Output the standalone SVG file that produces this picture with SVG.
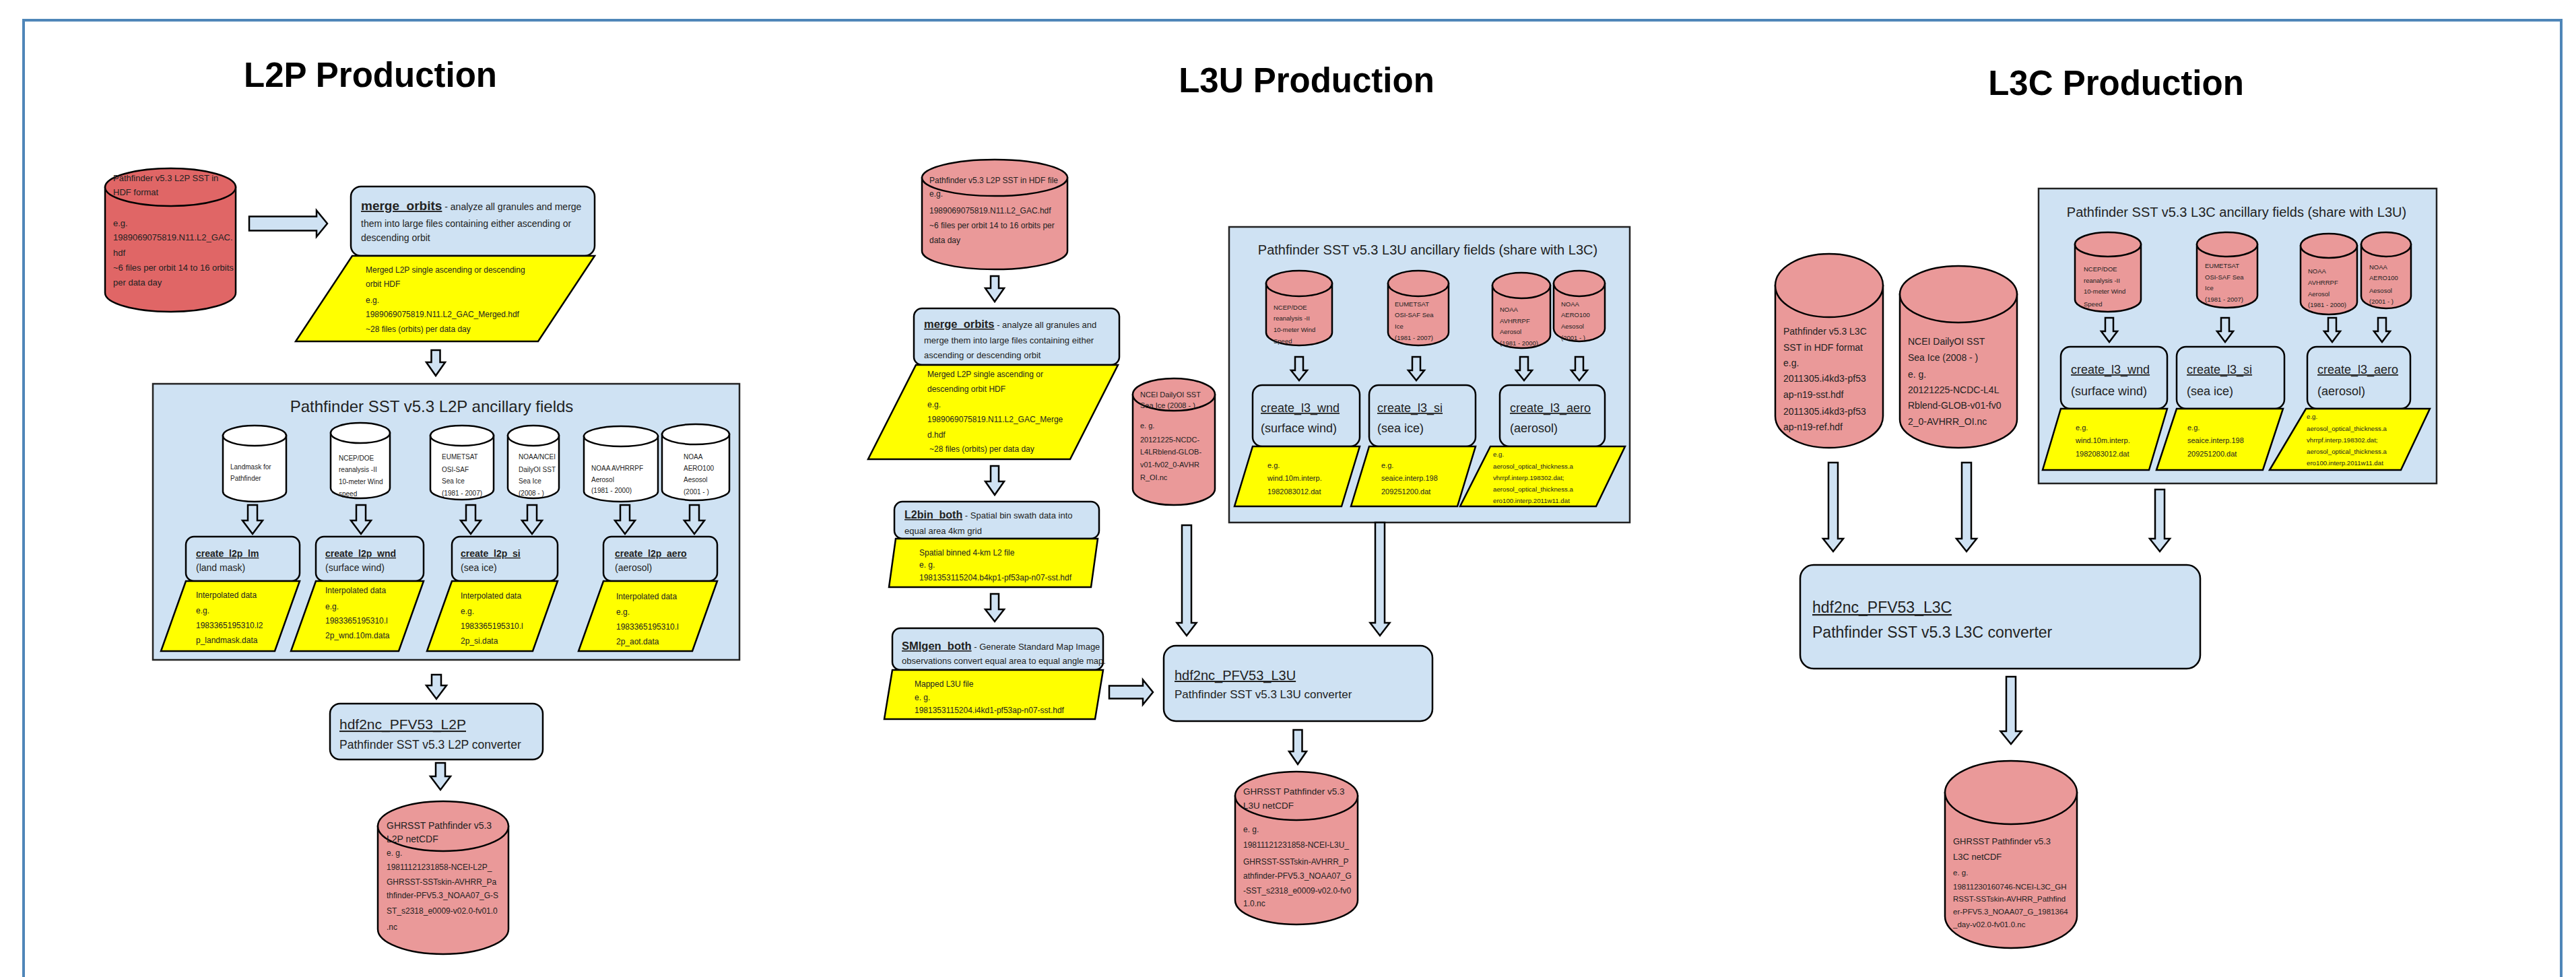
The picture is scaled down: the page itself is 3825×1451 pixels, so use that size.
<svg xmlns="http://www.w3.org/2000/svg" width="3825" height="1451" viewBox="0 0 3825 1451">
<style>
text{font-family:"Liberation Sans",Arial,sans-serif;fill:#222}
.ttl{font-size:51px;font-weight:bold;fill:#000;text-anchor:middle}
.box{fill:#cfe2f3;stroke:#000;stroke-width:2.5}
.grp{fill:#cfe2f3;stroke:#222;stroke-width:2.5}
.para{fill:#ffff00;stroke:#000;stroke-width:2.5;stroke-linejoin:miter}
.cr{fill:#e06666;stroke:#000;stroke-width:2.5}
.cp{fill:#ea9999;stroke:#000;stroke-width:2.5}
.cw{fill:#fff;stroke:#000;stroke-width:2.5}
.arr{fill:#cfe2f3;stroke:#000;stroke-width:2.5;stroke-linejoin:miter}
.u{text-decoration:underline}
.b{font-weight:bold}
.s9{font-size:9.5px}.s10{font-size:10px}.s11{font-size:11px}.s12{font-size:12px}.s13{font-size:13px}.s14{font-size:14px}.s18{font-size:18px}
</style>
<rect x="0" y="0" width="3825" height="1451" fill="#fff"/>
<path d="M35 1451 V30 H3803 V1451" fill="none" stroke="#4f86b8" stroke-width="4"/>
<text class="ttl" x="550" y="129">L2P Production</text>
<text class="ttl" x="1940" y="137">L3U Production</text>
<text class="ttl" x="3142" y="141">L3C Production</text>

<!-- ===== L2P ===== -->
<g id="l2p-input">
<path class="cr" d="M156 278 V435 A97 28 0 0 0 350 435 V278 Z"/>
<ellipse class="cr" cx="253" cy="278" rx="97" ry="28"/>
<text class="s13"><tspan x="168" y="269">Pathfinder v5.3 L2P SST in</tspan><tspan x="168" y="290">HDF format</tspan><tspan x="168" y="336">e.g.</tspan><tspan x="168" y="357">1989069075819.N11.L2_GAC.</tspan><tspan x="168" y="380">hdf</tspan><tspan x="168" y="402">~6 files per orbit 14 to 16 orbits</tspan><tspan x="168" y="424">per data day</tspan></text>
</g>
<g id="l2p-merge">
<rect class="box" x="521" y="277" width="362" height="103" rx="15"/>
<text class="s14" x="536" y="312"><tspan class="b u" font-size="19">merge_orbits</tspan> - analyze all granules and merge</text>
<text class="s14" x="536" y="337">them into large files containing either ascending or</text>
<text class="s14" x="536" y="358">descending orbit</text>
<polygon class="para" points="523,380 883,380 799,507 439,507"/>
<text class="s12"><tspan x="543" y="405">Merged L2P single ascending or descending</tspan><tspan x="543" y="426">orbit HDF</tspan><tspan x="543" y="450">e.g.</tspan><tspan x="543" y="471">1989069075819.N11.L2_GAC_Merged.hdf</tspan><tspan x="543" y="493">~28 files (orbits) per data day</tspan></text>
</g>
<g id="l2p-ancillary">
<rect class="grp" x="227" y="570" width="871" height="410"/>
<text x="641" y="612" font-size="24" text-anchor="middle">Pathfinder SST v5.3 L2P ancillary fields</text>
<g id="l2p-landmask-src">
<path class="cw" d="M331 647 V730 A47 15 0 0 0 425 730 V647 Z"/><ellipse class="cw" cx="378" cy="647" rx="47" ry="15"/>
<text class="s10"><tspan x="342" y="697">Landmask for</tspan><tspan x="342" y="714">Pathfinder</tspan></text>
</g>
<g id="l2p-ncep-src">
<path class="cw" d="M491 643 V725 A44 15 0 0 0 579 725 V643 Z"/><ellipse class="cw" cx="535" cy="643" rx="44" ry="15"/>
<text class="s10"><tspan x="503" y="684">NCEP/DOE</tspan><tspan x="503" y="701">reanalysis -II</tspan><tspan x="503" y="719">10-meter Wind</tspan><tspan x="503" y="737">speed</tspan></text>
</g>
<g id="l2p-eumetsat-src">
<path class="cw" d="M639 647 V727 A47 15 0 0 0 733 727 V647 Z"/><ellipse class="cw" cx="686" cy="647" rx="47" ry="15"/>
<text class="s10"><tspan x="656" y="682">EUMETSAT</tspan><tspan x="656" y="701">OSI-SAF</tspan><tspan x="656" y="718">Sea Ice</tspan><tspan x="656" y="736">(1981 - 2007)</tspan></text>
</g>
<g id="l2p-ncei-src">
<path class="cw" d="M754 647 V725 A38 15 0 0 0 830 725 V647 Z"/><ellipse class="cw" cx="792" cy="647" rx="38" ry="15"/>
<text class="s10"><tspan x="770" y="682">NOAA/NCEI</tspan><tspan x="770" y="701">DailyOI SST</tspan><tspan x="770" y="718">Sea Ice</tspan><tspan x="770" y="736">(2008 - )</tspan></text>
</g>
<g id="l2p-avhrrpf-src">
<path class="cw" d="M867 648 V730 A55 15 0 0 0 977 730 V648 Z"/><ellipse class="cw" cx="922" cy="648" rx="55" ry="15"/>
<text class="s10"><tspan x="878" y="699">NOAA AVHRRPF</tspan><tspan x="878" y="716">Aerosol</tspan><tspan x="878" y="732">(1981 - 2000)</tspan></text>
</g>
<g id="l2p-aero100-src">
<path class="cw" d="M983 645 V728 A50 15 0 0 0 1083 728 V645 Z"/><ellipse class="cw" cx="1033" cy="645" rx="50" ry="15"/>
<text class="s10"><tspan x="1015" y="682">NOAA</tspan><tspan x="1015" y="699">AERO100</tspan><tspan x="1015" y="716">Aesosol</tspan><tspan x="1015" y="734">(2001 - )</tspan></text>
</g>
<g id="create-l2p-lm">
<rect class="box" x="276" y="797" width="169" height="66" rx="12"/>
<text class="s14"><tspan x="291" y="827" class="b u">create_l2p_lm</tspan><tspan x="291" y="848">(land mask)</tspan></text>
<polygon class="para" points="276,863 445,863 408,967 239,967"/>
<text class="s12"><tspan x="291" y="888">Interpolated data</tspan><tspan x="291" y="911">e.g.</tspan><tspan x="291" y="933">1983365195310.l2</tspan><tspan x="291" y="955">p_landmask.data</tspan></text>
</g>
<g id="create-l2p-wnd">
<rect class="box" x="469" y="797" width="160" height="66" rx="12"/>
<text class="s14"><tspan x="483" y="827" class="b u">create_l2p_wnd</tspan><tspan x="483" y="848">(surface wind)</tspan></text>
<polygon class="para" points="469,863 629,863 592,967 432,967"/>
<text class="s12"><tspan x="483" y="881">Interpolated data</tspan><tspan x="483" y="905">e.g.</tspan><tspan x="483" y="926">1983365195310.l</tspan><tspan x="483" y="948">2p_wnd.10m.data</tspan></text>
</g>
<g id="create-l2p-si">
<rect class="box" x="671" y="797" width="157" height="66" rx="12"/>
<text class="s14"><tspan x="684" y="827" class="b u">create_l2p_si</tspan><tspan x="684" y="848">(sea ice)</tspan></text>
<polygon class="para" points="671,863 828,863 791,967 634,967"/>
<text class="s12"><tspan x="684" y="889">Interpolated data</tspan><tspan x="684" y="912">e.g.</tspan><tspan x="684" y="934">1983365195310.l</tspan><tspan x="684" y="956">2p_si.data</tspan></text>
</g>
<g id="create-l2p-aero">
<rect class="box" x="896" y="797" width="169" height="66" rx="12"/>
<text class="s14"><tspan x="913" y="827" class="b u">create_l2p_aero</tspan><tspan x="913" y="848">(aerosol)</tspan></text>
<polygon class="para" points="896,863 1065,863 1028,967 859,967"/>
<text class="s12"><tspan x="915" y="890">Interpolated data</tspan><tspan x="915" y="913">e.g.</tspan><tspan x="915" y="935">1983365195310.l</tspan><tspan x="915" y="957">2p_aot.data</tspan></text>
</g>
</g>
<g id="l2p-converter">
<rect class="box" x="490" y="1045" width="316" height="83" rx="15"/>
<text x="504" y="1083" font-size="21" class="u">hdf2nc_PFV53_L2P</text>
<text x="504" y="1112" font-size="17.5">Pathfinder SST v5.3 L2P converter</text>
</g>
<g id="l2p-output">
<path class="cp" d="M561 1227 V1380 A97 37 0 0 0 755 1380 V1227 Z"/>
<ellipse class="cp" cx="658" cy="1227" rx="97" ry="37"/>
<text class="s14"><tspan x="574" y="1231">GHRSST Pathfinder v5.3</tspan><tspan x="574" y="1251">L2P netCDF</tspan></text>
<text class="s12"><tspan x="574" y="1271">e. g.</tspan><tspan x="574" y="1292">19811121231858-NCEI-L2P_</tspan><tspan x="574" y="1314">GHRSST-SSTskin-AVHRR_Pa</tspan><tspan x="574" y="1334">thfinder-PFV5.3_NOAA07_G-S</tspan><tspan x="574" y="1357">ST_s2318_e0009-v02.0-fv01.0</tspan><tspan x="574" y="1381">.nc</tspan></text>
</g>

<!-- ===== L3U ===== -->
<g id="l3u-input">
<path class="cp" d="M1369 264 V373 A108 27 0 0 0 1585 373 V264 Z"/>
<ellipse class="cp" cx="1477" cy="264" rx="108" ry="27"/>
<text class="s12"><tspan x="1380" y="272">Pathfinder v5.3 L2P SST in HDF file</tspan><tspan x="1380" y="292">e.g.</tspan><tspan x="1380" y="317">1989069075819.N11.L2_GAC.hdf</tspan><tspan x="1380" y="339">~6 files per orbit 14 to 16 orbits per</tspan><tspan x="1380" y="361">data day</tspan></text>
</g>
<g id="l3u-merge">
<rect class="box" x="1357" y="458" width="305" height="84" rx="12"/>
<text class="s13" x="1372" y="487"><tspan class="b u" font-size="16.5">merge_orbits</tspan> - analyze all granules and</text>
<text class="s13" x="1372" y="510">merge them into large files containing either</text>
<text class="s13" x="1372" y="532">ascending or descending orbit</text>
<polygon class="para" points="1360,542 1660,542 1589,682 1289,682"/>
<text class="s12"><tspan x="1377" y="560">Merged L2P single ascending or</tspan><tspan x="1377" y="582">descending orbit HDF</tspan><tspan x="1377" y="605">e.g.</tspan><tspan x="1377" y="627">1989069075819.N11.L2_GAC_Merge</tspan><tspan x="1377" y="650">d.hdf</tspan><tspan x="1380" y="671">~28 files (orbits) per data day</tspan></text>
</g>
<g id="l3u-l2bin">
<rect class="box" x="1328" y="745" width="304" height="55" rx="12"/>
<text class="s13" x="1343" y="770"><tspan class="b u" font-size="16">L2bin_both</tspan> - Spatial bin swath data into</text>
<text class="s13" x="1343" y="793">equal area 4km grid</text>
<polygon class="para" points="1330,800 1630,800 1620,872 1320,872"/>
<text class="s12"><tspan x="1365" y="825">Spatial binned 4-km L2 file</tspan><tspan x="1365" y="843">e. g.</tspan><tspan x="1365" y="862">1981353115204.b4kp1-pf53ap-n07-sst.hdf</tspan></text>
</g>
<g id="l3u-smigen">
<rect class="box" x="1325" y="933" width="313" height="62" rx="12"/>
<text class="s13" x="1339" y="965"><tspan class="b u" font-size="16.5">SMIgen_both</tspan> - Generate Standard Map Image</text>
<text class="s13" x="1339" y="986">observations convert equal area to equal angle map.</text>
<polygon class="para" points="1325,995 1638,995 1626,1068 1313,1068"/>
<text class="s12"><tspan x="1358" y="1020">Mapped L3U file</tspan><tspan x="1358" y="1040">e. g.</tspan><tspan x="1358" y="1059">1981353115204.i4kd1-pf53ap-n07-sst.hdf</tspan></text>
</g>
<g id="l3u-ncei">
<path class="cp" d="M1682 586 V726 A61 24 0 0 0 1804 726 V586 Z"/>
<ellipse class="cp" cx="1743" cy="586" rx="61" ry="24"/>
<text class="s11"><tspan x="1693" y="590">NCEI DailyOI SST</tspan><tspan x="1693" y="606">Sea Ice (2008 - )</tspan><tspan x="1693" y="636">e. g.</tspan><tspan x="1693" y="657">20121225-NCDC-</tspan><tspan x="1693" y="675">L4LRblend-GLOB-</tspan><tspan x="1693" y="694">v01-fv02_0-AVHR</tspan><tspan x="1693" y="713">R_OI.nc</tspan></text>
</g>
<g id="l3u-ancillary">
<rect class="grp" x="1825" y="337" width="595" height="439"/>
<text x="2120" y="378" font-size="20" text-anchor="middle">Pathfinder SST v5.3 L3U ancillary fields (share with L3C)</text>
<g id="l3u-ncep-src">
<path class="cp" d="M1880 421 V494 A49 19 0 0 0 1978 494 V421 Z"/><ellipse class="cp" cx="1929" cy="421" rx="49" ry="19"/>
<text class="s9"><tspan x="1891" y="460">NCEP/DOE</tspan><tspan x="1891" y="476">reanalysis -II</tspan><tspan x="1891" y="493">10-meter Wind</tspan><tspan x="1891" y="510">Speed</tspan></text>
</g>
<g id="l3u-eumetsat-src">
<path class="cp" d="M2061 421 V494 A45 19 0 0 0 2151 494 V421 Z"/><ellipse class="cp" cx="2106" cy="421" rx="45" ry="19"/>
<text class="s9"><tspan x="2071" y="455">EUMETSAT</tspan><tspan x="2071" y="471">OSI-SAF Sea</tspan><tspan x="2071" y="488">Ice</tspan><tspan x="2071" y="505">(1981 - 2007)</tspan></text>
</g>
<g id="l3u-avhrrpf-src">
<path class="cp" d="M2216 424 V498 A43 19 0 0 0 2302 498 V424 Z"/><ellipse class="cp" cx="2259" cy="424" rx="43" ry="19"/>
<text class="s9"><tspan x="2227" y="463">NOAA</tspan><tspan x="2227" y="480">AVHRRPF</tspan><tspan x="2227" y="496">Aerosol</tspan><tspan x="2227" y="513">(1981 - 2000)</tspan></text>
</g>
<g id="l3u-aero100-src">
<path class="cp" d="M2307 421 V488 A38 19 0 0 0 2383 488 V421 Z"/><ellipse class="cp" cx="2345" cy="421" rx="38" ry="19"/>
<text class="s9"><tspan x="2318" y="455">NOAA</tspan><tspan x="2318" y="471">AERO100</tspan><tspan x="2318" y="488">Aesosol</tspan><tspan x="2318" y="505">(2001 - )</tspan></text>
</g>
<g id="create-l3u-wnd">
<rect class="box" x="1860" y="572" width="159" height="91" rx="14"/>
<text class="s18"><tspan x="1872" y="612" class="u">create_l3_wnd</tspan><tspan x="1872" y="642">(surface wind)</tspan></text>
<polygon class="para" points="1860,663 2019,663 1992,752 1833,752"/>
<text class="s11"><tspan x="1882" y="695">e.g.</tspan><tspan x="1882" y="714">wind.10m.interp.</tspan><tspan x="1882" y="734">1982083012.dat</tspan></text>
</g>
<g id="create-l3u-si">
<rect class="box" x="2033" y="572" width="158" height="91" rx="14"/>
<text class="s18"><tspan x="2045" y="612" class="u">create_l3_si</tspan><tspan x="2045" y="642">(sea ice)</tspan></text>
<polygon class="para" points="2033,663 2191,663 2164,752 2006,752"/>
<text class="s11"><tspan x="2051" y="695">e.g.</tspan><tspan x="2051" y="714">seaice.interp.198</tspan><tspan x="2051" y="734">209251200.dat</tspan></text>
</g>
<g id="create-l3u-aero">
<rect class="box" x="2227" y="572" width="156" height="91" rx="14"/>
<text class="s18"><tspan x="2242" y="612" class="u">create_l3_aero</tspan><tspan x="2242" y="642">(aerosol)</tspan></text>
<polygon class="para" points="2213,663 2413,663 2370,752 2168,752"/>
<text font-size="9.7"><tspan x="2217" y="678">e.g.</tspan><tspan x="2217" y="696">aerosol_optical_thickness.a</tspan><tspan x="2217" y="713">vhrrpf.interp.198302.dat;</tspan><tspan x="2217" y="730">aerosol_optical_thickness.a</tspan><tspan x="2217" y="747">ero100.interp.2011w11.dat</tspan></text>
</g>
</g>
<g id="l3u-converter">
<rect class="box" x="1728" y="959" width="399" height="112" rx="18"/>
<text x="1744" y="1010" font-size="20" class="u">hdf2nc_PFV53_L3U</text>
<text x="1744" y="1037" font-size="17">Pathfinder SST v5.3 L3U converter</text>
</g>
<g id="l3u-output">
<path class="cp" d="M1834 1182 V1337 A91 36 0 0 0 2016 1337 V1182 Z"/>
<ellipse class="cp" cx="1925" cy="1182" rx="91" ry="36"/>
<text font-size="13.5"><tspan x="1846" y="1180">GHRSST Pathfinder v5.3</tspan><tspan x="1846" y="1201">L3U netCDF</tspan></text>
<text class="s12"><tspan x="1846" y="1236">e. g.</tspan><tspan x="1846" y="1259">19811121231858-NCEI-L3U_</tspan><tspan x="1846" y="1284">GHRSST-SSTskin-AVHRR_P</tspan><tspan x="1846" y="1305">athfinder-PFV5.3_NOAA07_G</tspan><tspan x="1846" y="1327">-SST_s2318_e0009-v02.0-fv0</tspan><tspan x="1846" y="1346">1.0.nc</tspan></text>
</g>

<!-- ===== L3C ===== -->
<g id="l3c-input">
<path class="cp" d="M2636 424 V618 A80 47 0 0 0 2796 618 V424 Z"/>
<ellipse class="cp" cx="2716" cy="424" rx="80" ry="47"/>
<text class="s14"><tspan x="2648" y="497">Pathfinder v5.3 L3C</tspan><tspan x="2648" y="521">SST in HDF format</tspan><tspan x="2648" y="544">e.g.</tspan><tspan x="2648" y="567">2011305.i4kd3-pf53</tspan><tspan x="2648" y="591">ap-n19-sst.hdf</tspan><tspan x="2648" y="616">2011305.i4kd3-pf53</tspan><tspan x="2648" y="639">ap-n19-ref.hdf</tspan></text>
</g>
<g id="l3c-ncei">
<path class="cp" d="M2821 437 V623 A87 42 0 0 0 2995 623 V437 Z"/>
<ellipse class="cp" cx="2908" cy="437" rx="87" ry="42"/>
<text class="s14"><tspan x="2833" y="512">NCEI DailyOI SST</tspan><tspan x="2833" y="536">Sea Ice (2008 - )</tspan><tspan x="2833" y="561">e. g.</tspan><tspan x="2833" y="584">20121225-NCDC-L4L</tspan><tspan x="2833" y="607">Rblend-GLOB-v01-fv0</tspan><tspan x="2833" y="631">2_0-AVHRR_OI.nc</tspan></text>
</g>
<g id="l3c-ancillary">
<rect class="grp" x="3027" y="280" width="591" height="438"/>
<text x="3321" y="322" font-size="20" text-anchor="middle">Pathfinder SST v5.3 L3C ancillary fields (share with L3U)</text>
<g id="l3c-ncep-src">
<path class="cp" d="M3081 363 V445 A49 18 0 0 0 3179 445 V363 Z"/><ellipse class="cp" cx="3130" cy="363" rx="49" ry="18"/>
<text class="s9"><tspan x="3094" y="403">NCEP/DOE</tspan><tspan x="3094" y="420">reanalysis -II</tspan><tspan x="3094" y="436">10-meter Wind</tspan><tspan x="3094" y="455">Speed</tspan></text>
</g>
<g id="l3c-eumetsat-src">
<path class="cp" d="M3262 363 V439 A45 18 0 0 0 3352 439 V363 Z"/><ellipse class="cp" cx="3307" cy="363" rx="45" ry="18"/>
<text class="s9"><tspan x="3274" y="398">EUMETSAT</tspan><tspan x="3274" y="415">OSI-SAF Sea</tspan><tspan x="3274" y="431">Ice</tspan><tspan x="3274" y="448">(1981 - 2007)</tspan></text>
</g>
<g id="l3c-avhrrpf-src">
<path class="cp" d="M3416 365 V449 A42 18 0 0 0 3500 449 V365 Z"/><ellipse class="cp" cx="3458" cy="365" rx="42" ry="18"/>
<text class="s9"><tspan x="3427" y="406">NOAA</tspan><tspan x="3427" y="423">AVHRRPF</tspan><tspan x="3427" y="440">Aerosol</tspan><tspan x="3427" y="456">(1981 - 2000)</tspan></text>
</g>
<g id="l3c-aero100-src">
<path class="cp" d="M3506 363 V440 A37 18 0 0 0 3580 440 V363 Z"/><ellipse class="cp" cx="3543" cy="363" rx="37" ry="18"/>
<text class="s9"><tspan x="3518" y="400">NOAA</tspan><tspan x="3518" y="416">AERO100</tspan><tspan x="3518" y="435">Aesosol</tspan><tspan x="3518" y="451">(2001 - )</tspan></text>
</g>
<g id="create-l3c-wnd">
<rect class="box" x="3060" y="515" width="158" height="92" rx="14"/>
<text class="s18"><tspan x="3075" y="555" class="u">create_l3_wnd</tspan><tspan x="3075" y="587">(surface wind)</tspan></text>
<polygon class="para" points="3060,607 3218,607 3191,698 3033,698"/>
<text class="s11"><tspan x="3082" y="639">e.g.</tspan><tspan x="3082" y="658">wind.10m.interp.</tspan><tspan x="3082" y="678">1982083012.dat</tspan></text>
</g>
<g id="create-l3c-si">
<rect class="box" x="3232" y="515" width="160" height="92" rx="14"/>
<text class="s18"><tspan x="3247" y="555" class="u">create_l3_si</tspan><tspan x="3247" y="587">(sea ice)</tspan></text>
<polygon class="para" points="3232,607 3390,607 3360,698 3202,698"/>
<text class="s11"><tspan x="3248" y="639">e.g.</tspan><tspan x="3248" y="658">seaice.interp.198</tspan><tspan x="3248" y="678">209251200.dat</tspan></text>
</g>
<g id="create-l3c-aero">
<rect class="box" x="3426" y="515" width="153" height="92" rx="14"/>
<text class="s18"><tspan x="3441" y="555" class="u">create_l3_aero</tspan><tspan x="3441" y="587">(aerosol)</tspan></text>
<polygon class="para" points="3424,607 3608,607 3565,698 3370,698"/>
<text font-size="9.7"><tspan x="3425" y="622">e.g.</tspan><tspan x="3425" y="640">aerosol_optical_thickness.a</tspan><tspan x="3425" y="657">vhrrpf.interp.198302.dat;</tspan><tspan x="3425" y="674">aerosol_optical_thickness.a</tspan><tspan x="3425" y="691">ero100.interp.2011w11.dat</tspan></text>
</g>
</g>
<g id="l3c-converter">
<rect class="box" x="2673" y="839" width="594" height="154" rx="20"/>
<text x="2691" y="910" font-size="23" class="u">hdf2nc_PFV53_L3C</text>
<text x="2691" y="947" font-size="23">Pathfinder SST v5.3 L3C converter</text>
</g>
<g id="l3c-output">
<path class="cp" d="M2888 1177 V1361 A98 47 0 0 0 3084 1361 V1177 Z"/>
<ellipse class="cp" cx="2986" cy="1177" rx="98" ry="47"/>
<text class="s13"><tspan x="2900" y="1254">GHRSST Pathfinder v5.3</tspan><tspan x="2900" y="1277">L3C netCDF</tspan></text>
<text font-size="11.5"><tspan x="2900" y="1300">e. g.</tspan><tspan x="2900" y="1321">19811230160746-NCEI-L3C_GH</tspan><tspan x="2900" y="1339">RSST-SSTskin-AVHRR_Pathfind</tspan><tspan x="2900" y="1358">er-PFV5.3_NOAA07_G_1981364</tspan><tspan x="2900" y="1377">_day-v02.0-fv01.0.nc</tspan></text>
</g>

<!-- ===== connectors ===== -->
<g id="connectors">
<path class="arr" d="M370 321.5 H470 V312.5 L486 332 L470 351.5 V342.5 H370 Z"/>
<path class="arr" d="M640.5 520 H653.5 V538 H661 L647 558 L633 538 H640.5 Z"/>
<path class="arr" d="M368 750 H382 V773 H390 L375 793 L360 773 H368 Z"/>
<path class="arr" d="M529 750 H543 V773 H551 L536 793 L521 773 H529 Z"/>
<path class="arr" d="M692 750 H706 V773 H714 L699 793 L684 773 H692 Z"/>
<path class="arr" d="M783 750 H797 V773 H805 L790 793 L775 773 H783 Z"/>
<path class="arr" d="M921 750 H935 V773 H943 L928 793 L913 773 H921 Z"/>
<path class="arr" d="M1024 750 H1038 V773 H1046 L1031 793 L1016 773 H1024 Z"/>
<path class="arr" d="M641 1002 H655 V1018 H663 L648 1038 L633 1018 H641 Z"/>
<path class="arr" d="M647 1133 H661 V1153 H669 L654 1173 L639 1153 H647 Z"/>
<path class="arr" d="M1471 410 H1483 V428 H1491 L1477 448 L1463 428 H1471 Z"/>
<path class="arr" d="M1471 692 H1483 V715 H1491 L1477 735 L1463 715 H1471 Z"/>
<path class="arr" d="M1471 882 H1483 V905 H1491 L1477 923 L1463 905 H1471 Z"/>
<path class="arr" d="M1647 1018.5 H1697 V1009.5 L1712 1028 L1697 1046.5 V1037.5 H1647 Z"/>
<path class="arr" d="M1755 780 H1769 V925 H1776.5 L1762 944 L1747.5 925 H1755 Z"/>
<path class="arr" d="M2042 776 H2056 V925 H2063.5 L2049 944 L2034.5 925 H2042 Z"/>
<path class="arr" d="M1920.5 1084 H1933.5 V1116 H1940 L1927 1135 L1914 1116 H1920.5 Z"/>
<path class="arr" d="M1923 530 H1935 V550 H1941 L1929 565 L1917 550 H1923 Z"/>
<path class="arr" d="M2097 530 H2109 V550 H2115 L2103 565 L2091 550 H2097 Z"/>
<path class="arr" d="M2257 530 H2269 V550 H2275 L2263 565 L2251 550 H2257 Z"/>
<path class="arr" d="M2339 530 H2351 V550 H2357 L2345 565 L2333 550 H2339 Z"/>
<path class="arr" d="M2715 687 H2729 V800 H2737 L2722 819 L2707 800 H2715 Z"/>
<path class="arr" d="M2913 687 H2927 V800 H2935 L2920 819 L2905 800 H2913 Z"/>
<path class="arr" d="M3200 727 H3214 V800 H3222 L3207 819 L3192 800 H3200 Z"/>
<path class="arr" d="M3126 472 H3138 V492 H3144 L3132 508 L3120 492 H3126 Z"/>
<path class="arr" d="M3298 472 H3310 V492 H3316 L3304 508 L3292 492 H3298 Z"/>
<path class="arr" d="M3457 472 H3469 V492 H3475 L3463 508 L3451 492 H3457 Z"/>
<path class="arr" d="M3531 472 H3543 V492 H3549 L3537 508 L3525 492 H3531 Z"/>
<path class="arr" d="M2979 1005 H2993 V1086 H3001.5 L2986 1105 L2970.5 1086 H2979 Z"/>
</g>
</svg>
